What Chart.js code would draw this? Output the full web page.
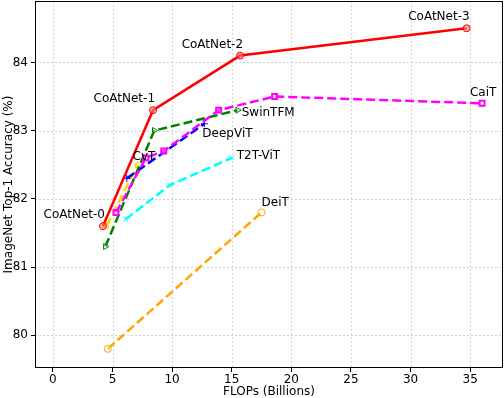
<!DOCTYPE html>
<html>
<head>
<meta charset="utf-8">
<script src="https://cdn.jsdelivr.net/npm/chart.js@4/dist/chart.umd.min.js"></script>
<style>
    html, body { margin: 0; padding: 0; background: #fff; }
    #wrap { width: 504px; height: 398px; }
</style>
</head>
<body>
<div id="wrap"><canvas id="chartFlops" width="504" height="398"></canvas></div>
<script>
// dados (FLOPs em bilhoes, acuracia top-1 em %)
const coatnetFlops = [4.2, 8.4, 15.7, 34.7];
const coatnetAcc = [81.6, 83.3, 84.1, 84.5];
const caitFlops = [5.3, 7.8, 9.3, 13.9, 18.6, 36.0];
const caitAcc = [81.8, 82.6, 82.7, 83.3, 83.5, 83.4];
const swinFlops = [4.4, 8.5, 15.5];
const swinAcc = [81.3, 83.0, 83.3];
const deepvitFlops = [6.2, 12.7];
const deepvitAcc = [82.3, 83.1];
const t2tFlops = [6.1, 9.8, 15.0];
const t2tAcc = [81.7, 82.2, 82.6];
const cvtFlops = [4.5, 7.1];
const cvtAcc = [81.6, 82.5];
const deitFlops = [4.6, 17.5];
const deitAcc = [79.8, 81.8];

const xTicks = [0, 5, 10, 15, 20, 25, 30, 35];
const yTicks = [80, 81, 82, 83, 84];

const FONTE = 'DejaVu Sans';

const CORES = {
    coatnet: '#ff0000',
    cait: '#ff00ff',
    swin: '#008000',
    deepvit: '#0000ff',
    t2t: '#00ffff',
    cvt: '#ffd700',
    deit: '#ffa500'
};

// rotulos: [dataset, ponto, texto, alinhamento, dx, dy]
const rotulos = [
    [0, 0, 'CoAtNet-0', 'right', 2, -11],
    [0, 1, 'CoAtNet-1', 'right', 2, -11],
    [0, 2, 'CoAtNet-2', 'right', 3, -11],
    [0, 3, 'CoAtNet-3', 'right', 3, -11],
    [1, 5, 'CaiT', 'center', 1, -10],
    [2, 2, 'SwinTFM', 'left', 4, 3],
    [3, 1, 'DeepViT', 'left', -2, 10],
    [4, 2, 'T2T-ViT', 'left', 5, -2],
    [5, 1, 'CvT', 'left', -5, -8],
    [6, 1, 'DeiT', 'left', 0, -10]
];

function pares(xs, ys) {
    return xs.map((x, i) => ({ x: x, y: ys[i] }));
}

function serie(label, xs, ys, cor, estilo, tracejado, extra) {
    return Object.assign({
        label: label,
        data: pares(xs, ys),
        borderColor: cor,
        backgroundColor: cor,
        borderWidth: 2.5,
        borderDash: tracejado ? [9, 4] : [],
        pointStyle: estilo,
        pointRadius: 3.5,
        pointBorderWidth: 1,
        pointBorderColor: cor,
        pointBackgroundColor: 'rgba(255,255,255,0.3)',
        showLine: true,
        tension: 0
    }, extra || {});
}

// grade pontilhada + moldura + textos
const extrasPlugin = {
    id: 'extras',
    beforeDatasetsDraw(chart) {
        const { ctx, chartArea: a, scales: { x, y } } = chart;
        ctx.save();
        ctx.strokeStyle = '#c8c8c8';
        ctx.lineWidth = 0.8;
        ctx.setLineDash([2, 2]);
        xTicks.forEach(v => {
            const px = Math.round(x.getPixelForValue(v)) + 0.5;
            ctx.beginPath(); ctx.moveTo(px, a.top); ctx.lineTo(px, a.bottom); ctx.stroke();
        });
        yTicks.forEach(v => {
            const py = Math.round(y.getPixelForValue(v)) + 0.5;
            ctx.beginPath(); ctx.moveTo(a.left, py); ctx.lineTo(a.right, py); ctx.stroke();
        });
        ctx.restore();
    },
    afterDraw(chart) {
        const { ctx, chartArea: a } = chart;
        ctx.save();
        ctx.strokeStyle = '#000';
        ctx.lineWidth = 1;
        ctx.strokeRect(Math.round(a.left) + 0.5, Math.round(a.top) + 0.5,
            Math.round(a.right - a.left) - 1, Math.round(a.bottom - a.top) - 1);
        ctx.fillStyle = '#000';
        ctx.font = '12px "' + FONTE + '"';
        ctx.textBaseline = 'middle';
        rotulos.forEach(([ds, idx, txt, alinh, dx, dy]) => {
            const el = chart.getDatasetMeta(ds).data[idx];
            ctx.textAlign = alinh;
            ctx.fillText(txt, el.x + dx, el.y + dy);
        });
        ctx.restore();
    }
};

const ctx = document.getElementById('chartFlops').getContext('2d');
const chart = new Chart(ctx, {
    type: 'scatter',
    data: {
        datasets: [
            serie('CoAtNet', coatnetFlops, coatnetAcc, CORES.coatnet, 'circle', false, { pointBackgroundColor: 'rgba(255,120,120,0.6)' }),
            serie('CaiT', caitFlops, caitAcc, CORES.cait, 'rect', true, { pointBorderWidth: 2, pointRadius: 3.5 }),
            serie('SwinTFM', swinFlops, swinAcc, CORES.swin, 'triangle', true, { pointRotation: 90 }),
            serie('DeepViT', deepvitFlops, deepvitAcc, CORES.deepvit, 'cross', true),
            serie('T2T-ViT', t2tFlops, t2tAcc, CORES.t2t, 'crossRot', true),
            serie('CvT', cvtFlops, cvtAcc, CORES.cvt, 'triangle', true),
            serie('DeiT', deitFlops, deitAcc, CORES.deit, 'circle', true)
        ]
    },
    options: {
        responsive: false,
        animation: false,
        layout: { autoPadding: false, padding: { top: 1, right: 1, left: 0, bottom: 0 } },
        plugins: {
            legend: { display: false },
            tooltip: { enabled: false }
        },
        scales: {
            x: {
                type: 'linear',
                min: -1.5,
                max: 37.75,
                afterBuildTicks: (s) => { s.ticks = xTicks.map(v => ({ value: v })); },
                afterFit: (s) => { s.height = 30; s.paddingLeft = 0; s.paddingRight = 0; },
                ticks: { color: '#000', padding: 2, maxRotation: 0, font: { family: FONTE, size: 12, lineHeight: 1 } },
                grid: { drawOnChartArea: false, drawTicks: true, tickLength: 4, tickColor: '#000' },
                border: { display: false },
                title: {
                    display: true,
                    text: 'FLOPs (Billions)',
                    color: '#000',
                    padding: { top: 1, bottom: 0 },
                    font: { family: FONTE, size: 12, lineHeight: 1 }
                }
            },
            y: {
                type: 'linear',
                min: 79.52,
                max: 84.9,
                afterBuildTicks: (s) => { s.ticks = yTicks.map(v => ({ value: v })); },
                afterFit: (s) => { s.width = 35; s.paddingTop = 0; s.paddingBottom = 0; },
                ticks: { color: '#000', padding: 3, font: { family: FONTE, size: 12, lineHeight: 1 } },
                grid: { drawOnChartArea: false, drawTicks: true, tickLength: 4, tickColor: '#000' },
                border: { display: false },
                title: {
                    display: true,
                    text: 'ImageNet Top-1 Accuracy (%)',
                    color: '#000',
                    padding: { top: 3, bottom: 1 },
                    font: { family: FONTE, size: 12, lineHeight: 1 }
                }
            }
        }
    },
    plugins: [extrasPlugin]
});
</script>
</body>
</html>
